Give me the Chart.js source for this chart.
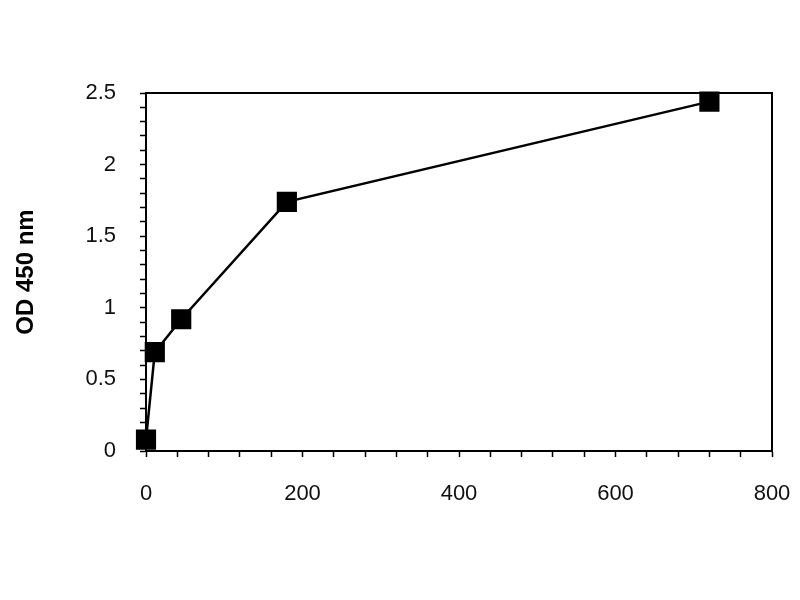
<!DOCTYPE html>
<html>
<head>
<meta charset="utf-8">
<script src="https://cdn.jsdelivr.net/npm/chart.js@4.4.0/dist/chart.umd.min.js"></script>
<style>
  html, body { margin: 0; padding: 0; background: #fff; }
  #wrap { width: 800px; height: 600px; }
</style>
</head>
<body>
<div id="wrap"><canvas id="odChart" width="800" height="600"></canvas></div>
<script>
// --- data ---
const concentrations = [0, 11.25, 45, 180, 720];
const odValues = [0.08, 0.69, 0.92, 1.74, 2.44];
const xMajorTicks = [0, 200, 400, 600, 800];
const yMajorTicks = [0, 0.5, 1, 1.5, 2, 2.5];

const points = concentrations.map((c, i) => ({ x: c, y: odValues[i] }));

// kuti rreth zones se grafikut (vijat lart dhe djathtas)
const frameBox = {
  id: "frameBox",
  afterDraw(chart) {
    const { ctx, chartArea: a } = chart;
    ctx.save();
    ctx.strokeStyle = "#000";
    ctx.lineWidth = 2;
    ctx.beginPath();
    ctx.moveTo(a.left, a.top);
    ctx.lineTo(a.right, a.top);
    ctx.lineTo(a.right, a.bottom);
    ctx.stroke();
    ctx.restore();
  }
};

const near = (list, v) => list.some(t => Math.abs(t - v) < 1e-6);

new Chart(document.getElementById("odChart"), {
  type: "scatter",
  data: {
    datasets: [{
      data: points,
      showLine: true,
      borderColor: "#000",
      borderWidth: 2.5,
      backgroundColor: "#000",
      pointStyle: "rect",
      pointRadius: 12.5,
      pointHoverRadius: 12.5,
      tension: 0,
      clip: false
    }]
  },
  options: {
    responsive: false,
    animation: false,
    layout: { padding: { left: 0, top: 93, right: 28, bottom: 0 } },
    plugins: { legend: { display: false }, tooltip: { enabled: false } },
    scales: {
      x: {
        type: "linear",
        min: 0,
        max: 800,
        grid: { drawOnChartArea: false, tickLength: 6, tickColor: "#000", tickWidth: 1.5 },
        border: { color: "#000", width: 2 },
        ticks: {
          stepSize: 40,
          autoSkip: false,
          maxRotation: 0,
          padding: 24,
          color: "#111",
          font: { family: "Liberation Sans, Arial, sans-serif", size: 22 },
          callback: v => near(xMajorTicks, v) ? String(v) : ""
        },
        afterFit: s => { s.height = 149; s.paddingLeft = 0; s.paddingRight = 0; }
      },
      y: {
        min: 0,
        max: 2.5,
        grid: { drawOnChartArea: false, tickLength: 6, tickColor: "#000", tickWidth: 1.5 },
        border: { color: "#000", width: 2 },
        ticks: {
          stepSize: 0.1,
          autoSkip: false,
          padding: 24,
          color: "#111",
          font: { family: "Liberation Sans, Arial, sans-serif", size: 22 },
          callback: v => near(yMajorTicks, v) ? String(Math.round(v * 10) / 10) : ""
        },
        title: {
          display: true,
          text: "OD 450 nm",
          color: "#000",
          padding: { top: 12, bottom: 0 },
          font: { family: "Liberation Sans, Arial, sans-serif", size: 24, weight: "bold" }
        },
        afterFit: s => { s.width = 146; }
      }
    }
  },
  plugins: [frameBox]
});
</script>
</body>
</html>
